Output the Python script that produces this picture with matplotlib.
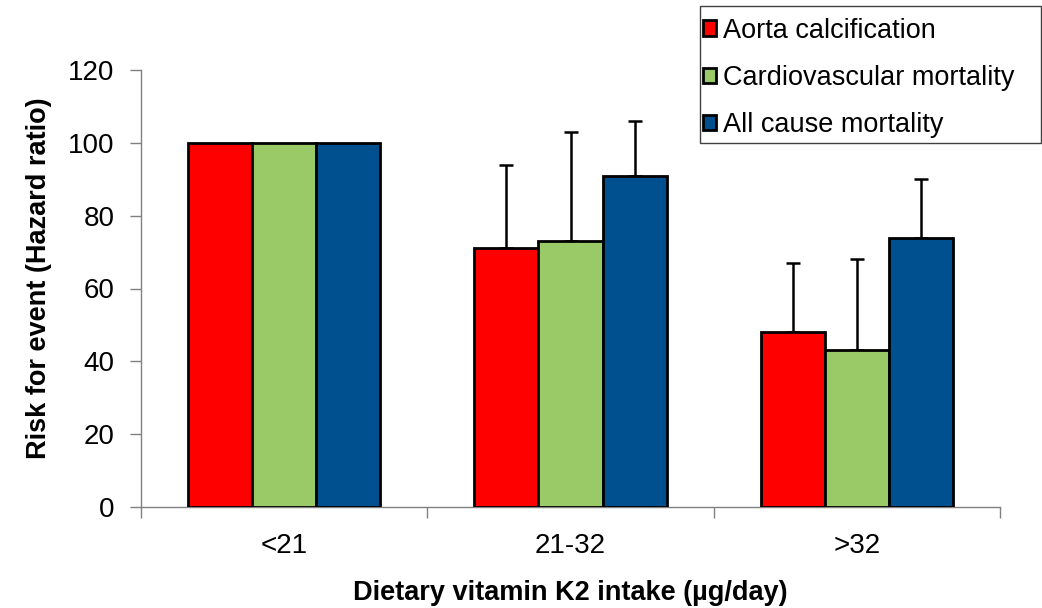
import matplotlib
matplotlib.use("Agg")
import matplotlib.pyplot as plt
from matplotlib.patches import Rectangle
import numpy as np

plt.rcParams['font.family'] = ['Liberation Sans', 'DejaVu Sans']

categories = ["<21", "21-32", ">32"]
series_names = ["Aorta calcification", "Cardiovascular mortality", "All cause mortality"]
aorta = [100, 71, 48]
cardio = [100, 73, 43]
allcause = [100, 91, 74]
aorta_err = [0, 23, 19]
cardio_err = [0, 30, 25]
allcause_err = [0, 15, 16]
yticks = [0, 20, 40, 60, 80, 100, 120]

colors = ["#FF0000", "#99CA67", "#004F8F"]
values = [aorta, cardio, allcause]
errors = [aorta_err, cardio_err, allcause_err]

W, H = 1042, 608
fig = plt.figure(figsize=(W / 100, H / 100), dpi=100)
ax = fig.add_axes([141/W, 1 - 507/H, (1000 - 141)/W, (507 - 70)/H])

x = np.arange(len(categories))
w = 0.224
offsets = [-w, 0, w]
handles = []
for vals, errs, col, off, name in zip(values, errors, colors, offsets, series_names):
    b = ax.bar(x + off, vals, width=w, color=col, edgecolor="black",
               linewidth=2, label=name, zorder=3)
    handles.append(b)
    has_err = [e > 0 for e in errs]
    xe = (x + off)[has_err]
    ve = np.array(vals)[has_err]
    ee = np.array(errs)[has_err]
    ax.errorbar(xe, ve, yerr=[np.zeros_like(ee), ee], fmt="none",
                ecolor="black", elinewidth=1.8, capsize=4.8, capthick=1.8,
                zorder=2)

ax.set_xlim(-0.5, 2.5)
ax.set_ylim(0, 120)
ax.set_yticks(yticks)
ax.set_yticklabels([str(t) for t in yticks], fontsize=20)
ax.set_xticks(x)
ax.set_xticklabels(categories, fontsize=20)
ax.set_xticks([-0.5, 0.5, 1.5, 2.5], minor=True)
ax.tick_params(axis="x", which="major", length=0, pad=19)
ax.tick_params(axis="x", which="minor", length=8, color="#808080", width=1)
ax.tick_params(axis="y", length=8, color="#808080", width=1, pad=11)

for s in ["top", "right"]:
    ax.spines[s].set_visible(False)
for s in ["left", "bottom"]:
    ax.spines[s].set_color("#808080")
    ax.spines[s].set_linewidth(1)

ax.set_ylabel("Risk for event (Hazard ratio)", fontsize=19.5, fontweight="bold")
ax.yaxis.set_label_coords(-0.1036, 0.524)
ax.set_xlabel("Dietary vitamin K2 intake (µg/day)", fontsize=19.5, fontweight="bold")
ax.xaxis.set_label_coords(0.5, -0.168)
ax.xaxis.label.set_va("top")

# legend frame drawn as a plain box, entries placed inside it
fig.patches.append(Rectangle((700/W, 1 - 143/H), 341/W, 137/H,
                             transform=fig.transFigure, fill=True,
                             facecolor="white", edgecolor="#404040",
                             linewidth=1, zorder=5))
leg = fig.legend(handles=handles, labels=series_names, loc="upper left",
                 bbox_to_anchor=(700/W, 1 - 15/H), bbox_transform=fig.transFigure,
                 fontsize=19.5, frameon=False,
                 handlelength=0.5, handleheight=0.5, handletextpad=0.25,
                 labelspacing=0.78, borderpad=0.0, borderaxespad=0.1)
leg.set_zorder(6)

fig.savefig("out.png", dpi=100, facecolor="white")
